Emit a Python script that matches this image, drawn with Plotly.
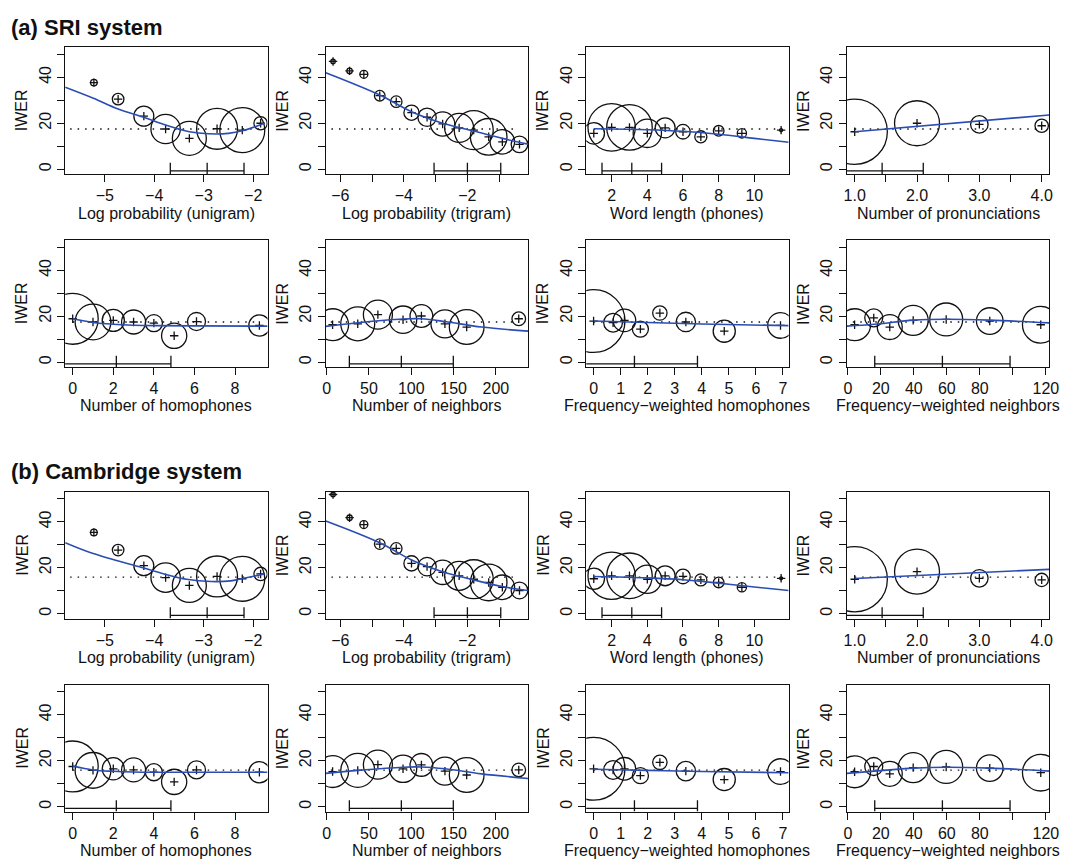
import math
import plotly.graph_objects as go

# ------------------------------------------------------------------ data
SRI_MEAN = 17.5
CAM_MEAN = 15.9

# Log probability (unigram)
uni_x = [-5.22, -4.73, -4.21, -3.77, -3.29, -2.73, -2.22, -1.85]
uni_share = [0.66, 2.0, 6.0, 13.0, 17.4, 25.3, 30.5, 2.7]
uni_sri = [37.7, 30.5, 23.1, 17.5, 13.4, 17.6, 17.0, 20.0]
uni_cam = [35.4, 27.7, 20.9, 15.7, 12.3, 16.2, 15.2, 17.3]
uni_fit_x_sri = [-5.8, -5.23, -4.73, -4.21, -3.77, -3.29, -2.9, -2.5, -2.22, -1.77]
uni_fit_sri = [35.7, 30.9, 26.2, 22.6, 19.2, 16.3, 15.4, 15.6, 16.7, 20.0]
uni_fit_x_cam = [-5.8, -5.25, -4.25, -3.8, -3.35, -2.85, -2.45, -2.24, -1.77]
uni_fit_cam = [30.9, 26.3, 20.1, 17.3, 15.0, 14.0, 14.3, 15.2, 17.3]
uni_span = [-5.7, -1.78]
uni_mean_sd = [-2.93, 0.745]

# Log probability (trigram)
tri_x = [-6.23, -5.71, -5.26, -4.76, -4.24, -3.76, -3.27, -2.78, -2.26, -1.80, -1.33, -0.90, -0.36]
tri_share = [0.3, 0.44, 0.96, 1.7, 2.0, 3.5, 5.1, 8.9, 12.7, 22.9, 20.2, 9.1, 4.2]
tri_sri = [46.9, 42.8, 41.3, 32.0, 29.4, 24.6, 22.6, 19.7, 18.0, 17.0, 14.1, 11.9, 10.8]
tri_cam = [51.9, 41.8, 38.8, 30.3, 28.4, 21.9, 20.5, 18.0, 16.5, 15.0, 13.6, 11.5, 10.1]
tri_fit_x = [-6.46, -4.76, -3.76, -2.78, -1.8, -0.9, -0.09]
tri_fit_sri = [42.0, 32.3, 25.0, 20.0, 16.6, 13.4, 10.9]
tri_fit_cam = [40.4, 30.9, 23.4, 18.3, 14.7, 11.8, 10.1]
tri_span = [-6.28, -0.45]
tri_mean_sd = [-2.0, 1.05]

# Word length (phones)
len_x = [1.0, 2.0, 3.0, 4.0, 5.0, 6.0, 7.0, 8.0, 9.3, 11.5]
len_share = [6.9, 33.8, 31.3, 12.1, 6.0, 3.2, 2.2, 1.7, 1.3, 0.14]
len_sri = [15.6, 18.2, 18.2, 15.6, 18.0, 16.3, 14.1, 16.7, 15.6, 17.0]
len_cam = [15.2, 16.5, 16.5, 15.0, 16.5, 16.2, 14.7, 13.6, 11.5, 15.4]
len_fit_x = [1.0, 4.0, 6.0, 8.0, 10.0, 11.92]
len_fit_sri = [17.6, 17.2, 16.5, 15.2, 13.4, 11.7]
len_fit_cam = [16.2, 15.6, 14.8, 13.3, 11.6, 10.1]
len_span = [1.0, 11.5]
len_mean_sd = [3.13, 1.67]

# Number of pronunciations
pro_x = [1.0, 2.0, 3.0, 4.0]
pro_share = [64.4, 30.5, 4.6, 2.7]
pro_sri = [16.3, 20.0, 19.5, 18.9]
pro_cam = [15.0, 18.3, 15.4, 14.7]
pro_fit_x = [1.0, 4.12]
pro_fit_sri = [16.3, 23.6]
pro_fit_cam = [15.3, 19.3]
pro_span = [1.0, 4.0]
pro_mean_sd = [1.44, 0.66]

# Number of homophones
hom_x = [0.0, 1.0, 2.0, 3.0, 4.0, 5.0, 6.1, 9.2]
hom_share = [39.2, 19.3, 7.4, 8.7, 4.4, 9.6, 4.9, 6.8]
hom_sri = [18.9, 17.5, 18.2, 17.5, 17.0, 11.5, 17.7, 16.0]
hom_cam = [17.5, 15.8, 16.5, 16.0, 15.0, 10.8, 16.0, 15.0]
hom_fit_x = [0.0, 1.0, 2.0, 3.0, 4.0, 6.0, 9.6]
hom_fit_sri = [18.9, 17.3, 16.5, 16.1, 15.9, 15.8, 15.7]
hom_fit_cam = [17.7, 16.0, 15.4, 15.1, 15.0, 15.0, 15.0]
hom_span = [0.0, 9.2]
hom_mean_sd = [2.15, 2.69]

# Number of neighbors
nei_x = [7.1, 36.8, 60.6, 90.3, 112.0, 139.8, 165.5, 227.0]
nei_share = [15.4, 17.4, 12.7, 11.3, 7.8, 11.8, 18.2, 2.8]
nei_sri = [16.3, 16.7, 20.7, 18.5, 20.1, 16.7, 15.3, 18.9]
nei_cam = [15.3, 15.8, 18.3, 16.5, 18.2, 15.5, 13.8, 16.0]
nei_fit_x = [-1.0, 37.0, 90.0, 112.0, 140.0, 183.0, 238.0]
nei_fit_sri = [15.6, 17.2, 18.8, 18.9, 17.7, 15.3, 13.5]
nei_fit_cam = [14.5, 15.8, 17.2, 17.3, 16.5, 14.3, 12.3]
nei_span = [5.0, 227.0]
nei_mean_sd = [88.3, 61.4]

# Frequency-weighted homophones
fwh_x = [0.0, 0.72, 1.14, 1.73, 2.45, 3.41, 4.83, 6.91]
fwh_share = [59.4, 5.3, 7.7, 3.9, 3.1, 5.7, 7.4, 9.9]
fwh_sri = [17.9, 17.2, 18.2, 14.4, 21.4, 17.5, 13.5, 16.0]
fwh_cam = [16.5, 16.0, 16.5, 13.5, 19.3, 15.5, 11.8, 15.3]
fwh_fit_x = [0.0, 2.0, 4.0, 7.21]
fwh_fit_sri = [17.9, 17.3, 16.6, 15.9]
fwh_fit_cam = [16.3, 15.8, 15.3, 14.8]
fwh_span = [0.0, 6.9]
fwh_mean_sd = [1.51, 2.33]

# Frequency-weighted neighbors
fwn_x = [4.1, 15.7, 25.4, 39.6, 59.6, 86.0, 116.9]
fwn_share = [15.4, 4.9, 9.4, 13.6, 16.4, 10.7, 20.2]
fwn_sri = [16.3, 19.3, 15.3, 18.2, 18.6, 17.9, 16.3]
fwn_cam = [15.2, 17.5, 14.3, 17.0, 17.3, 16.8, 14.8]
fwn_fit_x = [-0.6, 16.0, 40.0, 60.0, 86.0, 122.0]
fwn_fit_sri = [15.7, 16.5, 18.3, 18.7, 18.3, 17.1]
fwn_fit_cam = [14.5, 15.5, 16.8, 17.2, 16.8, 15.5]
fwn_span = [3.0, 117.0]
fwn_mean_sd = [57.3, 41.0]

x_titles = ["Log probability (unigram)", "Log probability (trigram)",
            "Word length (phones)", "Number of pronunciations",
            "Number of homophones", "Number of neighbors",
            "Frequency\u2212weighted homophones", "Frequency\u2212weighted neighbors"]

# ------------------------------------------------------------------ panels
M = "\u2212"
panels = [
    dict(x=uni_x, share=uni_share, sri=uni_sri, cam=uni_cam,
         fx_sri=uni_fit_x_sri, f_sri=uni_fit_sri, fx_cam=uni_fit_x_cam, f_cam=uni_fit_cam,
         span=uni_span, ms=uni_mean_sd, rng=[-5.8, -1.71],
         tv=[-5, -4, -3, -2], tt=[M + "5", M + "4", M + "3", M + "2"]),
    dict(x=tri_x, share=tri_share, sri=tri_sri, cam=tri_cam,
         fx_sri=tri_fit_x, f_sri=tri_fit_sri, fx_cam=tri_fit_x, f_cam=tri_fit_cam,
         span=tri_span, ms=tri_mean_sd, rng=[-6.46, -0.09],
         tv=[-6, -5, -4, -3, -2, -1], tt=[M + "6", "", M + "4", "", M + "2", ""]),
    dict(x=len_x, share=len_share, sri=len_sri, cam=len_cam,
         fx_sri=len_fit_x, f_sri=len_fit_sri, fx_cam=len_fit_x, f_cam=len_fit_cam,
         span=len_span, ms=len_mean_sd, rng=[0.58, 11.92],
         tv=[2, 4, 6, 8, 10], tt=["2", "4", "6", "8", "10"]),
    dict(x=pro_x, share=pro_share, sri=pro_sri, cam=pro_cam,
         fx_sri=pro_fit_x, f_sri=pro_fit_sri, fx_cam=pro_fit_x, f_cam=pro_fit_cam,
         span=pro_span, ms=pro_mean_sd, rng=[0.874, 4.12],
         tv=[1, 1.5, 2, 2.5, 3, 3.5, 4], tt=["1.0", "", "2.0", "", "3.0", "", "4.0"]),
    dict(x=hom_x, share=hom_share, sri=hom_sri, cam=hom_cam,
         fx_sri=hom_fit_x, f_sri=hom_fit_sri, fx_cam=hom_fit_x, f_cam=hom_fit_cam,
         span=hom_span, ms=hom_mean_sd, rng=[-0.37, 9.6],
         tv=[0, 2, 4, 6, 8], tt=["0", "2", "4", "6", "8"]),
    dict(x=nei_x, share=nei_share, sri=nei_sri, cam=nei_cam,
         fx_sri=nei_fit_x, f_sri=nei_fit_sri, fx_cam=nei_fit_x, f_cam=nei_fit_cam,
         span=nei_span, ms=nei_mean_sd, rng=[-1.0, 238.0],
         tv=[0, 50, 100, 150, 200], tt=["0", "50", "100", "150", "200"]),
    dict(x=fwh_x, share=fwh_share, sri=fwh_sri, cam=fwh_cam,
         fx_sri=fwh_fit_x, f_sri=fwh_fit_sri, fx_cam=fwh_fit_x, f_cam=fwh_fit_cam,
         span=fwh_span, ms=fwh_mean_sd, rng=[-0.27, 7.21],
         tv=[0, 1, 2, 3, 4, 5, 6, 7], tt=[str(v) for v in range(8)]),
    dict(x=fwn_x, share=fwn_share, sri=fwn_sri, cam=fwn_cam,
         fx_sri=fwn_fit_x, f_sri=fwn_fit_sri, fx_cam=fwn_fit_x, f_cam=fwn_fit_cam,
         span=fwn_span, ms=fwn_mean_sd, rng=[-0.6, 122.0],
         tv=[0, 20, 40, 60, 80, 100, 120], tt=["0", "20", "40", "60", "80", "", "120"]),
]

# ------------------------------------------------------------------ layout geometry
W, H = 1072, 862
COL_LEFT = [62, 326, 590, 854]
BOX_W = 205
ROW_TOP = [47, 240, 491.5, 684.5]
BOX_H = 127
Y_RANGE = [-2.1, 53.2]
R_SCALE = 4.07          # px radius per sqrt(% of words)
BLUE = "#2B4DB3"
FONT = "Liberation Sans, Arial, Helvetica, sans-serif"
INK = "#111111"
FS = 16

fig = go.Figure()
layout = dict(width=W, height=H, margin=dict(l=0, r=0, t=0, b=0),
              paper_bgcolor="white", plot_bgcolor="white", showlegend=False,
              font=dict(family=FONT, size=FS, color=INK))
annotations = []

k = 0
for sys_i, (key, mean) in enumerate([("sri", SRI_MEAN), ("cam", CAM_MEAN)]):
    for p_i, p in enumerate(panels):
        k += 1
        row = sys_i * 2 + p_i // 4
        col = p_i % 4
        left = COL_LEFT[col]
        top = ROW_TOP[row]
        xa = "x" if k == 1 else f"x{k}"
        ya = "y" if k == 1 else f"y{k}"
        iwer = p[key]
        # bubbles
        fig.add_trace(go.Scatter(
            x=p["x"], y=iwer, mode="markers", xaxis=xa, yaxis=ya, cliponaxis=True,
            marker=dict(symbol="circle-open", color=INK, opacity=1,
                        size=[2 * R_SCALE * math.sqrt(s) for s in p["share"]],
                        line=dict(width=1.3, color=INK)),
            hoverinfo="skip"))
        # plus signs
        fig.add_trace(go.Scatter(
            x=p["x"], y=iwer, mode="markers", xaxis=xa, yaxis=ya,
            marker=dict(symbol="cross-thin-open", size=6, color=INK, opacity=1,
                        line=dict(width=1.3, color=INK)),
            hoverinfo="skip"))
        # dotted mean
        fig.add_trace(go.Scatter(
            x=p["span"], y=[mean, mean], mode="lines", xaxis=xa, yaxis=ya,
            line=dict(color=INK, width=1.3, dash="1.5px,6px"), hoverinfo="skip"))
        # fitted curve
        fig.add_trace(go.Scatter(
            x=p["fx_" + key], y=p["f_" + key], mode="lines", xaxis=xa, yaxis=ya,
            line=dict(color=BLUE, width=1.6, shape="spline", smoothing=1.0),
            hoverinfo="skip"))
        # mean +- sd bracket
        m, s = p["ms"]
        lo, hi, base = Y_RANGE[0], 2.8, -0.7
        fig.add_trace(go.Scatter(
            x=[m - s, m + s, None, m - s, m - s, None, m, m, None, m + s, m + s],
            y=[base, base, None, lo, hi, None, lo, hi, None, lo, hi],
            mode="lines", xaxis=xa, yaxis=ya,
            line=dict(color=INK, width=1.3), hoverinfo="skip"))

        axis_common = dict(showgrid=False, zeroline=False, showline=True, mirror=True,
                           linecolor=INK, linewidth=1.3, ticks="outside", ticklen=7,
                           tickwidth=1.2, tickcolor=INK,
                           tickfont=dict(size=FS, color=INK, family=FONT))
        layout["xaxis" if k == 1 else f"xaxis{k}"] = dict(
            axis_common, domain=[left / W, (left + BOX_W) / W], anchor=ya,
            range=p["rng"], tickmode="array", tickvals=p["tv"], ticktext=p["tt"])
        layout["yaxis" if k == 1 else f"yaxis{k}"] = dict(
            axis_common, domain=[1 - (top + BOX_H) / H, 1 - top / H], anchor=xa,
            range=Y_RANGE, tickmode="array", tickvals=[0, 10, 20, 30, 40, 50],
            ticktext=["0", "", "20", "", "40", ""], tickangle=-90)
        # axis titles
        annotations.append(dict(
            text="IWER", x=(left - 44) / W, y=1 - (top + BOX_H / 2) / H,
            xref="paper", yref="paper", showarrow=False, textangle=-90,
            xanchor="center", yanchor="middle", font=dict(size=FS, color=INK, family=FONT)))
        annotations.append(dict(
            text=x_titles[p_i], x=(left + BOX_W / 2) / W, y=1 - (top + BOX_H + 39) / H,
            xref="paper", yref="paper", showarrow=False,
            xanchor="center", yanchor="middle", font=dict(size=FS, color=INK, family=FONT)))

annotations.append(dict(text="<b>(a) SRI system</b>", x=5 / W, y=1 - 28 / H,
                        xref="paper", yref="paper", showarrow=False,
                        xanchor="left", yanchor="middle",
                        font=dict(size=22, color=INK, family=FONT)))
annotations.append(dict(text="<b>(b) Cambridge system</b>", x=5 / W, y=1 - 471 / H,
                        xref="paper", yref="paper", showarrow=False,
                        xanchor="left", yanchor="middle",
                        font=dict(size=22, color=INK, family=FONT)))
layout["annotations"] = annotations
fig.update_layout(**layout)
fig.write_html("out.html")
